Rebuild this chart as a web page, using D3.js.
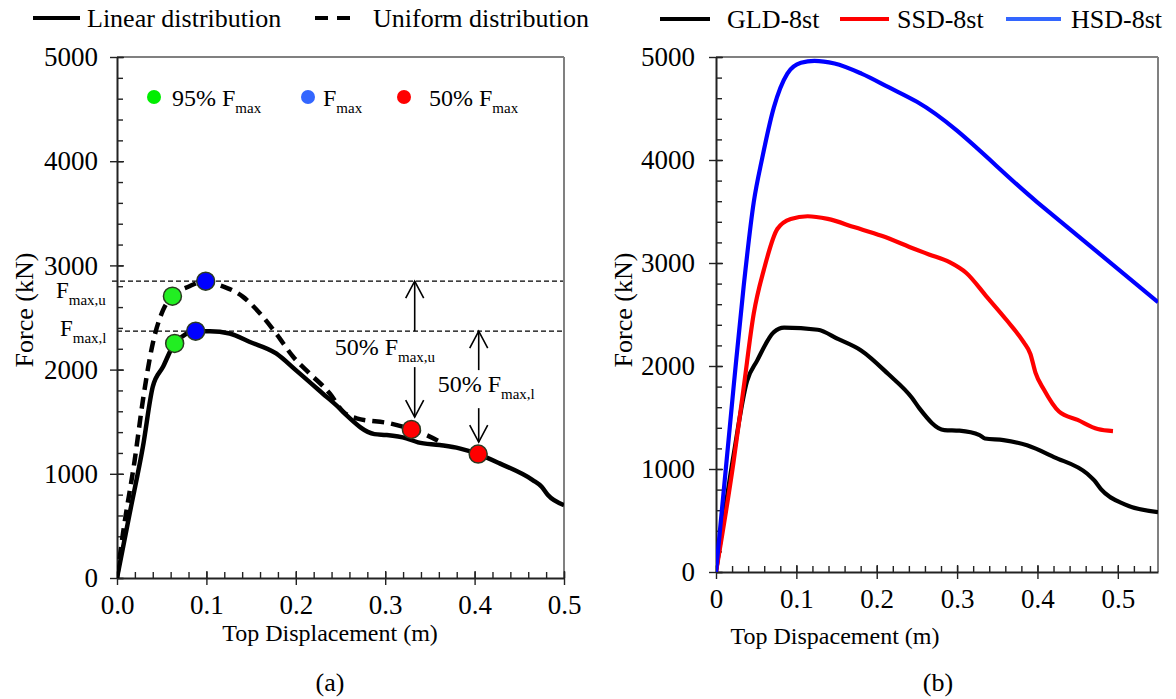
<!DOCTYPE html>
<html>
<head>
<meta charset="utf-8">
<script src="https://cdn.jsdelivr.net/npm/d3@7"></script>
<style>
body { margin: 0; background: #fff; }
text { font-family: "Liberation Serif", "Times New Roman", serif; fill: #000; }
</style>
</head>
<body>
<svg id="chart" width="1176" height="699"></svg>
<script>
// Data ==================================================================
// (a) linear vs uniform load distribution  [displacement m, force kN]
var linearCurve = [[0,0],[0.0142,620],[0.029,1260],[0.040,1835],[0.0515,2027],[0.0645,2251],[0.088,2369],
  [0.104,2369],[0.126,2347],[0.148,2267],[0.178,2155],[0.2,1995],[0.23,1771],[0.249,1628],[0.2566,1563],
  [0.288,1381],[0.301,1372],[0.3237,1340],[0.3367,1302],[0.361,1276],[0.383,1244],[0.404,1189],
  [0.428,1100],[0.465,940],[0.475,876],[0.482,796],[0.5,700]];
var uniformCurve = [[0,0],[0.0067,429],[0.0198,1132],[0.029,1707],[0.040,2251],[0.0515,2570],[0.062,2705],
  [0.081,2800],[0.0992,2849],[0.115,2810],[0.141,2698],[0.16,2539],[0.178,2347],[0.197,2123],
  [0.2155,1963],[0.238,1771],[0.253,1595],[0.268,1532],[0.305,1484],[0.3293,1426],[0.346,1372],[0.361,1308]];

var fMaxU = 2849;
var fMaxL = 2369;
var pts95 = [[0.062,2705],[0.0645,2251]];
var ptsMax = [[0.0992,2849],[0.088,2369]];
var pts50 = [[0.3293,1426],[0.404,1189]];

// arrows: x, from force, to force (head at "to")
var arrows = [[0.333,fMaxL,fMaxU],[0.333,2024,1544],[0.4046,1995,fMaxL],[0.4046,1630,1304]];

// (b) three buildings
var gldCurve = [[0,0],[0.0218,1132],[0.0386,1853],[0.051,2050],[0.072,2329],[0.0847,2372],[0.1266,2352],
  [0.1517,2263],[0.181,2149],[0.2147,1919],[0.244,1689],[0.2529,1591],[0.2842,1378],[0.303,1372],
  [0.328,1329],[0.3346,1296],[0.3577,1280],[0.387,1230],[0.4205,1116],[0.4624,951],[0.471,886],
  [0.479,804],[0.5086,656],[0.55,581]];
var ssdCurve = [[0,0],[0.0218,1066],[0.0344,1788],[0.047,2510],[0.0596,2936],[0.0763,3330],[0.093,3428],
  [0.114,3454],[0.139,3428],[0.1727,3346],[0.206,3264],[0.248,3133],[0.265,3083],[0.2906,3008],
  [0.3115,2903],[0.3367,2674],[0.3618,2444],[0.3828,2231],[0.3912,2117],[0.3975,1936],[0.408,1772],
  [0.4268,1558],[0.45,1477],[0.475,1388],[0.494,1368]];
var hsdCurve = [[0,0],[0.0218,1788],[0.0344,2772],[0.047,3592],[0.0575,4018],[0.072,4511],[0.0888,4839],
  [0.1057,4944],[0.1225,4963],[0.1475,4937],[0.181,4839],[0.2147,4707],[0.25,4565],[0.3995,3592],[0.55,2620]];

var seriesB = ["GLD-8st","SSD-8st","HSD-8st"];
var colorsB = ["#000000","#ff0000","#0000ff"];
var legendColorsB = ["#000000","#ff0000","#3366ff"];

var forceTicks = [0,1000,2000,3000,4000,5000];
var dispTicks = [0,0.1,0.2,0.3,0.4,0.5];

var svg = d3.select("#chart");

// Helpers ===============================================================
function drawAxes(g, x, y, xFmt, yPad) {
  var w = x.range()[1], h = y.range()[0];
  var xMinor = d3.range(0, x.domain()[1] + 1e-9, 0.02);
  var yMinor = d3.range(0, 5001, 200);

  // grey top and right border
  g.append("line").attr("x1",0).attr("x2",w).attr("y1",0).attr("y2",0).attr("stroke","#808080").attr("stroke-width",2);
  g.append("line").attr("x1",w).attr("x2",w).attr("y1",0).attr("y2",h).attr("stroke","#808080").attr("stroke-width",2);

  // minor ticks (inside)
  g.append("g").attr("transform","translate(0," + h + ")")
    .call(d3.axisBottom(x).tickValues(xMinor).tickSize(-6).tickFormat(""))
    .call(function(a){ a.select(".domain").remove(); });
  g.append("g")
    .call(d3.axisLeft(y).tickValues(yMinor).tickSize(-6).tickFormat(""))
    .call(function(a){ a.select(".domain").remove(); });

  // major ticks crossing the axis
  g.append("g").attr("transform","translate(0," + h + ")")
    .call(d3.axisBottom(x).tickValues(dispTicks).tickSize(-7).tickFormat(""))
    .call(function(a){ a.select(".domain").remove(); });
  g.append("g")
    .call(d3.axisLeft(y).tickValues(forceTicks).tickSize(-7).tickFormat(""))
    .call(function(a){ a.select(".domain").remove(); });

  var xa = g.append("g").attr("transform","translate(0," + h + ")")
    .call(d3.axisBottom(x).tickValues(dispTicks).tickSize(7).tickSizeOuter(0).tickPadding(10).tickFormat(xFmt));
  var ya = g.append("g")
    .call(d3.axisLeft(y).tickValues(forceTicks).tickSize(7).tickSizeOuter(0).tickPadding(yPad).tickFormat(d3.format("d")));
  [xa, ya].forEach(function(a){
    a.attr("font-family",null).attr("font-size",null);
    a.selectAll("text").style("font-size","27px");
    a.select(".domain").attr("stroke","#222").attr("stroke-width",2);
  });
  g.selectAll(".tick line").attr("stroke","#222").attr("stroke-width",1.4);
}

function subText(g, px, py, pre, sub, size) {
  var t = g.append("text").attr("x",px).attr("y",py).style("font-size",size + "px");
  t.append("tspan").text(pre);
  t.append("tspan").attr("dy",7).style("font-size",Math.round(size*0.64) + "px").text(sub);
  return t;
}

function arrow(g, px, y1, y2) {
  var dir = y2 < y1 ? 1 : -1;
  g.append("line").attr("x1",px).attr("x2",px).attr("y1",y1).attr("y2",y2)
    .attr("stroke","#000").attr("stroke-width",1.6);
  g.append("path")
    .attr("d","M" + (px-9) + "," + (y2 + dir*17) + "L" + px + "," + y2 + "L" + (px+9) + "," + (y2 + dir*17))
    .attr("fill","none").attr("stroke","#000").attr("stroke-width",1.6);
}

// Panel (a) =============================================================
var gA = svg.append("g").attr("transform","translate(117,57)");
var xA = d3.scaleLinear().domain([0,0.5]).range([0,447]);
var yA = d3.scaleLinear().domain([0,5000]).range([521,0]);

svg.append("clipPath").attr("id","clipA").append("rect").attr("width",447).attr("height",521);

// reference lines F_max,u and F_max,l
[fMaxU, fMaxL].forEach(function(f, i) {
  gA.append("line").attr("x1", i === 0 ? -5 : 0).attr("x2",447).attr("y1",yA(f)).attr("y2",yA(f))
    .attr("stroke","#000").attr("stroke-width",1.2).attr("stroke-dasharray","5,3");
});

drawAxes(gA, xA, yA, d3.format(".1f"), 12);

var lineA = d3.line().x(function(d){ return xA(d[0]); }).y(function(d){ return yA(d[1]); }).curve(d3.curveMonotoneX);
var curvesA = gA.append("g").attr("clip-path","url(#clipA)");
curvesA.append("path").datum(linearCurve).attr("d",lineA)
  .attr("fill","none").attr("stroke","#000").attr("stroke-width",4.5).attr("stroke-linejoin","round");
curvesA.append("path").datum(uniformCurve).attr("d",lineA)
  .attr("fill","none").attr("stroke","#000").attr("stroke-width",4.5).attr("stroke-dasharray","12,7");

arrows.forEach(function(a) { arrow(gA, xA(a[0]), yA(a[1]), yA(a[2])); });

[[pts95,"#22ee22"],[ptsMax,"#0000ff"],[pts50,"#ff0000"]].forEach(function(s) {
  gA.selectAll(null).data(s[0]).enter().append("circle")
    .attr("cx",function(d){ return xA(d[0]); }).attr("cy",function(d){ return yA(d[1]); })
    .attr("r",9).attr("fill",s[1]).attr("stroke","#2b3a22").attr("stroke-width",1.5);
});

subText(gA, xA(0.2435), yA(2139), "50% F", "max,u", 24);
subText(gA, xA(0.3587), yA(1784), "50% F", "max,l", 24);
subText(gA, -61, yA(2690), "F", "max,u", 23);
subText(gA, -57, yA(2320), "F", "max,l", 23);

// inner legend
var innerLeg = [["#00ee00","95% F",37,55],["#3366ff","F",191,206],["#ff0000","50% F",287,312]];
innerLeg.forEach(function(l) {
  gA.append("circle").attr("cx",l[2]).attr("cy",40).attr("r",7).attr("fill",l[0]);
  subText(gA, l[3], 49, l[1], "max", 24);
});

gA.append("text").attr("x",213).attr("y",584).attr("text-anchor","middle").style("font-size","24px").text("Top Displacement (m)");
gA.append("text").attr("x",213).attr("y",634).attr("text-anchor","middle").style("font-size","26px").text("(a)");
gA.append("text").attr("transform","translate(-84,253) rotate(-90)").attr("text-anchor","middle").style("font-size","26px").text("Force (kN)");

// top legend (a)
svg.append("line").attr("x1",33).attr("x2",80).attr("y1",18).attr("y2",18).attr("stroke","#000").attr("stroke-width",4);
svg.append("text").attr("x",87).attr("y",27).style("font-size","26px").text("Linear distribution");
svg.append("line").attr("x1",315).attr("x2",358).attr("y1",18).attr("y2",18).attr("stroke","#000").attr("stroke-width",4).attr("stroke-dasharray","13,9");
svg.append("text").attr("x",373).attr("y",27).style("font-size","26px").text("Uniform distribution");

// Panel (b) =============================================================
var gB = svg.append("g").attr("transform","translate(716,57)");
var xB = d3.scaleLinear().domain([0,0.55]).range([0,442]);
var yB = d3.scaleLinear().domain([0,5000]).range([515,0]);

svg.append("clipPath").attr("id","clipB").append("rect").attr("width",442).attr("height",515);

drawAxes(gB, xB, yB, function(d){ return d === 0 ? "0" : d3.format(".1f")(d); }, 14);

var lineB = d3.line().x(function(d){ return xB(d[0]); }).y(function(d){ return yB(d[1]); }).curve(d3.curveMonotoneX);
var curvesB = gB.append("g").attr("clip-path","url(#clipB)");
[gldCurve, ssdCurve, hsdCurve].forEach(function(c, i) {
  curvesB.append("path").datum(c).attr("d",lineB)
    .attr("fill","none").attr("stroke",colorsB[i]).attr("stroke-width",4.2).attr("stroke-linejoin","round");
});

gB.append("text").attr("x",119).attr("y",587).attr("text-anchor","middle").style("font-size","24px").text("Top Dispacement (m)");
gB.append("text").attr("x",222).attr("y",634).attr("text-anchor","middle").style("font-size","26px").text("(b)");
gB.append("text").attr("transform","translate(-84,253) rotate(-90)").attr("text-anchor","middle").style("font-size","26px").text("Force (kN)");

// top legend (b)
var legX = [[660,710,727],[840,889,897],[1006,1061,1071]];
seriesB.forEach(function(s, i) {
  svg.append("line").attr("x1",legX[i][0]).attr("x2",legX[i][1]).attr("y1",19).attr("y2",19)
    .attr("stroke",legendColorsB[i]).attr("stroke-width",4);
  svg.append("text").attr("x",legX[i][2]).attr("y",28).style("font-size","26px").text(s);
});
</script>
</body>
</html>
